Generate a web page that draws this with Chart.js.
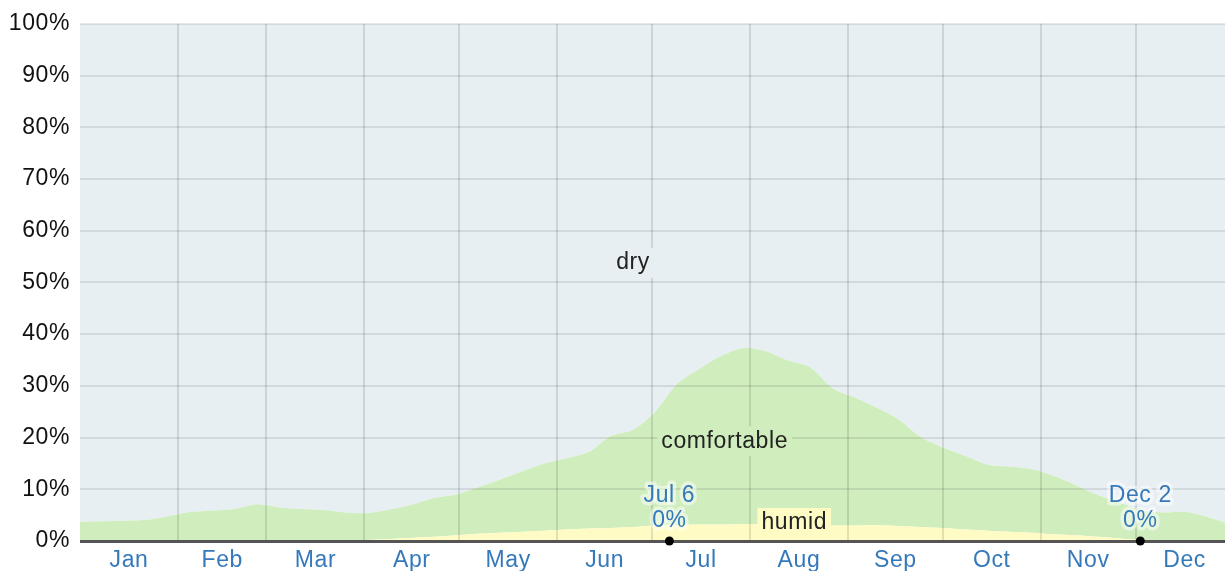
<!doctype html>
<html>
<head>
    <title>Humidity Comfort Levels</title>
    <meta charset="utf-8">
    <style>
        html, body {
            background: #fff;
            margin: 0;
            padding: 0;
        }

        .output {
            height: 571px;
            position: relative;
            width: 1225px;
        }
    </style>
    <script src="https://cdn.jsdelivr.net/npm/chart.js@4/dist/chart.umd.min.js"></script>
    <script>
        // day of year (0 = Jan 1) for each sample
        let days = [0, 7, 14, 21, 28, 35, 42, 49, 56, 63, 70, 77, 84, 91, 98, 105, 112, 119, 126, 133, 140,
            147, 154, 161, 168, 175, 182, 189, 196, 203, 210, 217, 224, 231, 238, 245, 252, 259, 266, 273,
            280, 287, 294, 301, 308, 315, 322, 329, 336, 343, 350, 357, 363];

        // percent of time in each band
        let humid = [0.1, 0.1, 0.1, 0.1, 0.1, 0.1, 0.1, 0.1, 0.1, 0.1, 0.1, 0.1, 0.1, 0.2, 0.4, 0.6, 0.8, 1.1, 1.4,
            1.6, 1.8, 2.0, 2.2, 2.4, 2.5, 2.7, 3.0, 3.1, 3.2, 3.2, 3.3, 3.2, 2.9, 2.8, 3.0, 3.0, 3.1, 2.9, 2.7,
            2.5, 2.2, 2.0, 1.8, 1.6, 1.3, 1.1, 0.8, 0.5, 0.2, 0.1, 0.05, 0.05, 0.05];
        let comfortable = [3.6, 3.7, 3.8, 4.0, 4.7, 5.5, 5.8, 6.1, 7.0, 6.4, 6.1, 5.9, 5.4, 5.2, 5.7, 6.4, 7.5,
            7.9, 9.0, 10.3, 11.7, 13.0, 13.8, 14.8, 17.8, 18.8, 22.0, 27.3, 30.1, 32.6, 34.0, 33.5, 32.0, 30.8,
            26.6, 24.8, 22.7, 20.6, 17.4, 15.6, 14.3, 12.8, 12.6, 12.3, 11.3, 9.7, 8.1, 6.9, 5.8, 5.4, 5.55,
            4.55, 3.35];

        let months = ["Jan", "Feb", "Mar", "Apr", "May", "Jun", "Jul", "Aug", "Sep", "Oct", "Nov", "Dec"];
        let monthStarts = [0, 31, 59, 90, 120, 151, 181, 212, 243, 273, 304, 334, 365];
        let yTicks = [0, 10, 20, 30, 40, 50, 60, 70, 80, 90, 100];

        // annotated minimums
        let notes = [
            {day: 186.5, label: "Jul 6", value: 0},
            {day: 335.5, label: "Dec 2", value: 0},
        ];

        window.addEventListener("DOMContentLoaded", function () {
            "use strict";

            let dom = {
                chart: document.querySelector("[data-output-chart]"),
            };

            let colors = {
                dry: "#e7eff3",
                comfortable: "#cfedbd",
                humid: "#fffbc4",
                text: "#222",
                blue: "#3579bb",
            };

            let font = "'Liberation Sans', Arial, sans-serif";

            let boundaries = monthStarts.slice(1, 12);
            let centers = [];
            for (let i = 0; i < 12; i++) {
                centers.push((monthStarts[i] + monthStarts[i + 1]) / 2);
            }

            let dry = days.map(function (d, i) {
                return 100 - humid[i] - comfortable[i];
            });

            function points(values) {
                return values.map(function (v, i) {
                    return {x: days[i], y: v};
                });
            }

            function band(label, values, color, fill) {
                return {
                    backgroundColor: color,
                    borderWidth: 0,
                    data: points(values),
                    fill: fill,
                    label: label,
                    pointRadius: 0,
                    tension: 0.3,
                };
            }

            // the reference text is a little wider than plain Arial
            let spacingPlugin = {
                id: "spacing",
                beforeDraw: function (chart) {
                    chart.ctx.letterSpacing = "0.6px";
                },
            };

            let labelPlugin = {
                id: "bandLabels",
                afterDraw: function (chart) {
                    let ctx = chart.ctx;
                    let x = chart.scales.x;
                    let y = chart.scales.y;

                    ctx.save();
                    ctx.font = "23px " + font;
                    ctx.textAlign = "center";
                    ctx.textBaseline = "middle";

                    let bands = [
                        {text: "dry", day: 175, value: 53.8, bg: colors.dry},
                        {text: "comfortable", day: 204, value: 19.3, bg: colors.comfortable},
                        {text: "humid", day: 226, value: 3.5, bg: colors.humid},
                    ];
                    bands.forEach(function (b) {
                        let px = x.getPixelForValue(b.day);
                        let py = y.getPixelForValue(b.value);
                        let w = ctx.measureText(b.text).width;
                        ctx.fillStyle = b.bg;
                        ctx.fillRect(px - w / 2 - 4, py - 15, w + 8, 30);
                        ctx.fillStyle = colors.text;
                        ctx.fillText(b.text, px, py);
                    });

                    notes.forEach(function (n) {
                        let px = x.getPixelForValue(n.day);
                        let py = y.getPixelForValue(n.value);
                        ctx.lineJoin = "round";
                        ctx.lineWidth = 7;
                        ctx.strokeStyle = "rgba(255, 255, 255, 0.5)";
                        ctx.strokeText(n.label, px, py - 45);
                        ctx.strokeText(n.value + "%", px, py - 20);
                        ctx.fillStyle = colors.blue;
                        ctx.fillText(n.label, px, py - 45);
                        ctx.fillText(n.value + "%", px, py - 20);
                        ctx.beginPath();
                        ctx.arc(px, py, 4.5, 0, Math.PI * 2);
                        ctx.fillStyle = "#000";
                        ctx.fill();
                    });
                    ctx.restore();
                },
            };

            new Chart(dom.chart, {
                type: "line",
                data: {
                    datasets: [
                        band("humid", humid, colors.humid, "origin"),
                        band("comfortable", comfortable, colors.comfortable, "-1"),
                        band("dry", dry, colors.dry, "-1"),
                    ],
                },
                options: {
                    animation: false,
                    maintainAspectRatio: false,
                    responsive: true,
                    layout: {
                        padding: {top: 22, right: 0, bottom: 0, left: 0},
                    },
                    plugins: {
                        legend: {display: false},
                        tooltip: {enabled: false},
                    },
                    scales: {
                        x: {
                            type: "linear",
                            min: 0,
                            max: 362.3,
                            border: {display: false},
                            grid: {
                                z: 1,
                                drawTicks: false,
                                lineWidth: 2,
                                color: function (c) {
                                    if (c.tick && boundaries.indexOf(c.tick.value) >= 0) {
                                        return "rgba(0, 0, 0, 0.11)";
                                    }
                                    return "rgba(0, 0, 0, 0)";
                                },
                            },
                            afterBuildTicks: function (scale) {
                                scale.ticks = boundaries.concat(centers).sort(function (a, b) {
                                    return a - b;
                                }).map(function (v) {
                                    return {value: v};
                                });
                            },
                            afterFit: function (scale) {
                                scale.height = 30;
                            },
                            ticks: {
                                autoSkip: false,
                                maxRotation: 0,
                                padding: 6,
                                color: colors.blue,
                                font: {family: font, size: 23},
                                callback: function (value) {
                                    let i = centers.indexOf(value);
                                    return i >= 0 ? months[i] : "";
                                },
                            },
                        },
                        y: {
                            stacked: true,
                            min: 0,
                            max: 100,
                            border: {display: false},
                            grid: {
                                z: 1,
                                drawTicks: false,
                                lineWidth: function (c) {
                                    return c.tick && c.tick.value === 0 ? 3 : 2;
                                },
                                color: function (c) {
                                    return c.tick && c.tick.value === 0 ? "#555" : "rgba(0, 0, 0, 0.09)";
                                },
                            },
                            afterBuildTicks: function (scale) {
                                scale.ticks = yTicks.map(function (v) {
                                    return {value: v};
                                });
                            },
                            afterFit: function (scale) {
                                scale.width = 80;
                            },
                            ticks: {
                                padding: 10,
                                color: "#111",
                                font: {family: font, size: 23},
                                callback: function (value) {
                                    return value + "%";
                                },
                            },
                        },
                    },
                },
                plugins: [spacingPlugin, labelPlugin],
            });
        });
    </script>
</head>
<body>
<main class="output">
    <canvas data-output-chart></canvas>
</main>
</body>
</html>
